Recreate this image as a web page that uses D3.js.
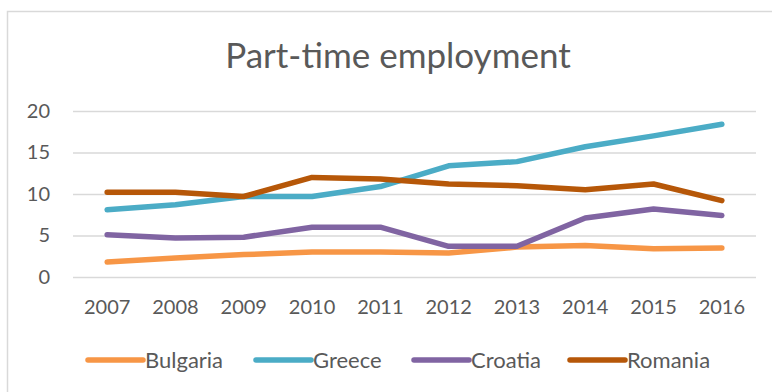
<!DOCTYPE html>
<html>
<head>
<meta charset="utf-8">
<script src="https://cdn.jsdelivr.net/npm/d3@7"></script>
<style>
  html, body { margin: 0; padding: 0; background: #fff; }
  svg { display: block; font-family: Lato, "Open Sans", sans-serif; }
</style>
</head>
<body>
<svg id="chart" width="772" height="392"></svg>
<script>
// Part-time employment, % of total employment
const years = ["2007", "2008", "2009", "2010", "2011", "2012", "2013", "2014", "2015", "2016"];
const countries = ["Bulgaria", "Greece", "Croatia", "Romania"];
const bulgaria = [1.8, 2.3, 2.7, 3.0, 3.0, 2.9, 3.6, 3.8, 3.4, 3.5];
const greece   = [8.1, 8.7, 9.7, 9.7, 10.9, 13.4, 13.9, 15.7, 17.0, 18.4];
const croatia  = [5.1, 4.7, 4.8, 6.0, 6.0, 3.7, 3.7, 7.1, 8.2, 7.4];
const romania  = [10.2, 10.2, 9.7, 12.0, 11.8, 11.2, 11.0, 10.5, 11.2, 9.2];
const yTicks = [0, 5, 10, 15, 20];
const colors = ["#F79646", "#4BACC6", "#8064A2", "#B65708"];

const seriesValues = [bulgaria, greece, croatia, romania];
const series = countries.map((name, i) => ({ name, color: colors[i], values: seriesValues[i] }));

const svg = d3.select("#chart");
const textColor = "#595959";

// chart frame
svg.append("rect")
  .attr("x", 7.5).attr("y", 11.5)
  .attr("width", 800).attr("height", 420)
  .attr("fill", "#fff").attr("stroke", "#D9D9D9").attr("stroke-width", 1.5);

const plot = { left: 73, right: 756, top: 111, bottom: 277 };

const x = d3.scaleBand().domain(years).range([plot.left, plot.right]);
const y = d3.scaleLinear().domain([0, 20]).range([plot.bottom, plot.top]);

// title
svg.append("text")
  .attr("x", 398).attr("y", 68)
  .attr("text-anchor", "middle")
  .attr("fill", textColor)
  .attr("font-size", 35)
  .text("Part-time employment");

// gridlines + y labels
const yAxis = d3.axisLeft(y).tickValues(yTicks)
  .tickSize(-(plot.right - plot.left)).tickPadding(23);
const gy = svg.append("g").attr("transform", `translate(${plot.left},0)`).call(yAxis);
gy.select(".domain").remove();
gy.selectAll(".tick line").attr("stroke", "#D9D9D9").attr("stroke-width", 1.5);
gy.selectAll(".tick text").attr("fill", textColor).attr("font-size", 20)
  .attr("font-family", "Lato, sans-serif");

// x labels
const xAxis = d3.axisBottom(x).tickSize(0).tickPadding(23);
const gx = svg.append("g").attr("transform", `translate(0,${plot.bottom})`).call(xAxis);
gx.select(".domain").remove();
gx.selectAll(".tick text").attr("fill", textColor).attr("font-size", 20)
  .attr("font-family", "Lato, sans-serif");

// series lines
const line = d3.line()
  .x((d, i) => x(years[i]) + x.bandwidth() / 2)
  .y(d => y(d));

svg.append("g").selectAll("path")
  .data(series)
  .join("path")
  .attr("d", d => line(d.values))
  .attr("fill", "none")
  .attr("stroke", d => d.color)
  .attr("stroke-width", 5.5)
  .attr("stroke-linecap", "round")
  .attr("stroke-linejoin", "round");

// legend
const legendX = [88, 256, 414, 570];
const legend = svg.append("g").selectAll("g")
  .data(series)
  .join("g")
  .attr("transform", (d, i) => `translate(${legendX[i]},360)`);
legend.append("line")
  .attr("x1", 0).attr("x2", 55).attr("y1", 0).attr("y2", 0)
  .attr("stroke", d => d.color).attr("stroke-width", 5.5)
  .attr("stroke-linecap", "round");
legend.append("text")
  .attr("x", 57).attr("y", 8)
  .attr("fill", textColor).attr("font-size", 22)
  .text(d => d.name);
</script>
</body>
</html>
